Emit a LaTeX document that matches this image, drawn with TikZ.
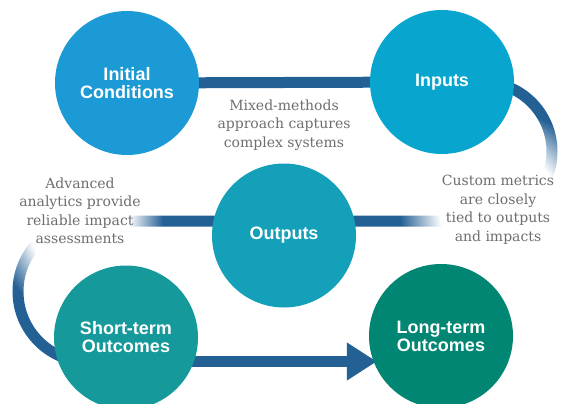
\documentclass[tikz,border=0pt]{standalone}
\usepackage{fontspec}
\setmainfont{DejaVu Serif}
\newfontfamily\labelfont{Liberation Sans}
\usetikzlibrary{arrows.meta,backgrounds,fadings}

\definecolor{linkblue}{RGB}{35,96,148}
\definecolor{initblue}{RGB}{27,154,214}
\definecolor{inputblue}{RGB}{8,165,206}
\definecolor{outputteal}{RGB}{20,160,185}
\definecolor{shortteal}{RGB}{22,153,155}
\definecolor{longgreen}{RGB}{0,134,114}
\definecolor{notegray}{RGB}{110,110,110}

\pgfdeclareradialshading{notefadeshade}{\pgfpoint{0bp}{0bp}}{color(0bp)=(white); color(15bp)=(white); color(25bp)=(black); color(50bp)=(black)}
\pgfdeclarefading{notefade}{\pgfuseshading{notefadeshade}}

\tikzset{
  stage/.style={circle, minimum size=144pt, inner sep=0pt, text=white, align=center,
    font=\labelfont\bfseries\fontsize{18}{18}\selectfont},
  note/.style={text=notegray, align=center, font=\fontsize{14}{18.5}\selectfont},
  link/.style={draw=linkblue, line width=11pt},
  haze/.style={fill=white, path fading=notefade}
}

\begin{document}
\begin{tikzpicture}[x=1pt,y=-1pt]
      \useasboundingbox (0,0) rectangle (563,404);
      \clip (0,0) rectangle (563,404);
      \draw
        (127,83) node[stage, fill=initblue] (initial){Initial\\Conditions}
        (442,82) node[stage, fill=inputblue] (inputs){Inputs}
        (284,235.5) node[stage, fill=outputteal] (outputs){Outputs}
        (126,337.5) node[stage, fill=shortteal] (shortterm){Short-term\\Outcomes}
        (441,336) node[stage, fill=longgreen] (longterm){Long-term\\Outcomes};
      \draw
        (284,125) node[note] (mixed){Mixed-methods\\approach captures\\complex systems}
        (80,211) node[note] (analytics){Advanced\\analytics provide\\reliable impact\\assessments}
        (498,210) node[note] (metrics){Custom metrics\\are closely\\tied to outputs\\and impacts};
      \coordinate (rtop) at (482.5,82);
      \coordinate (rbot) at (482.5,221);
      \coordinate (ltop) at (88.5,221);
      \coordinate (lowlane) at (0,361.5);
      \begin{scope}[on background layer]
        \draw[link] (initial) -- (inputs);
        \draw[link] (inputs.center) -- (rtop) arc[start angle=-90, end angle=90, radius=69.5] -- (outputs.center |- rbot);
        \draw[link] (outputs.center |- ltop) -- (ltop) arc[start angle=-90, end angle=-270, radius=70.5] -- (shortterm.center);
        \draw[link, -{Triangle[length=30pt, width=36pt]}, shorten >=-8pt] (shortterm.center |- lowlane) -- (longterm.west |- lowlane);
        \fill[haze] (500,210) circle [radius=100];
        \fill[haze] (78,215) ellipse [x radius=85, y radius=105];
      \end{scope}
    \end{tikzpicture}
\end{document}
